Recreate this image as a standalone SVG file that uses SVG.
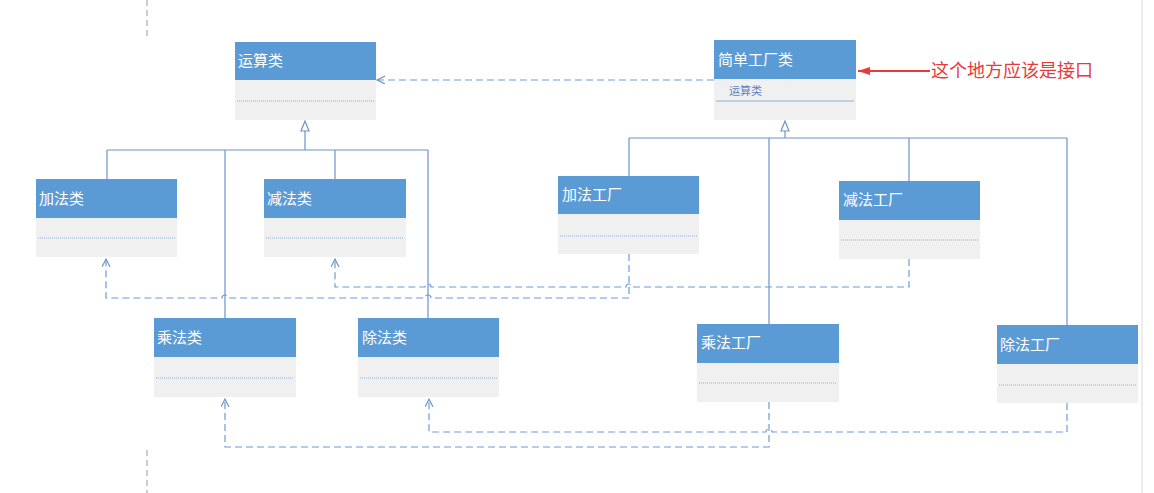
<svg xmlns="http://www.w3.org/2000/svg" width="1154" height="493" viewBox="0 0 1154 493">
<style>
.hd{fill:#5b9bd5}
.bd{fill:#f0f0f0}
.t{font-family:"Liberation Sans","Noto Sans CJK SC",sans-serif;font-size:15px;fill:#ffffff}
.sep{stroke:#8fb0d8;stroke-width:1;stroke-dasharray:1 1}
.solid{fill:none;stroke:#6d93c9;stroke-width:1.2}
.dash{fill:none;stroke:#6d9bd5;stroke-width:1.2;stroke-dasharray:7 4}
.tri{fill:#ffffff;stroke:#6d93c9;stroke-width:1.2}
</style>
<defs>
<marker id="open" markerWidth="10" markerHeight="10" refX="8" refY="4" orient="auto" markerUnits="userSpaceOnUse">
<path d="M0,0 L8,4 L0,8" fill="none" stroke="#6d93c9" stroke-width="1.2"/>
</marker>
<marker id="red" markerWidth="14" markerHeight="10" refX="12" refY="4" orient="auto" markerUnits="userSpaceOnUse">
<path d="M0,0 L12,4 L0,8 Z" fill="#e8393b"/>
</marker>
</defs>
<rect width="1154" height="493" fill="#ffffff"/>
<line x1="147" y1="0" x2="147" y2="36" stroke="#9a9a9a" stroke-dasharray="6 4"/>
<line x1="147" y1="450" x2="147" y2="493" stroke="#9a9a9a" stroke-dasharray="6 4"/>
<line x1="1142" y1="0" x2="1142" y2="493" stroke="#dcdcdc" stroke-width="1"/>

<g id="connectors">
<path class="solid" d="M305,131 V150 M107,150 H428 M107,150 V179 M225,150 V318 M335,150 V179 M428,150 V318"/>
<path class="tri" d="M305,121 L301,131 L309,131 Z"/>
<path class="solid" d="M785,131 V138 M629,138 H1067 M629,138 V176 M769,138 V324 M909,138 V181 M1067,138 V325"/>
<path class="tri" d="M785,121 L781,131 L789,131 Z"/>
<path class="dash" d="M714,80 H377" marker-end="url(#open)"/>
<path class="dash" d="M629,254 V298 H431 a3,3 0 0 0 -6,0 H228 a3,3 0 0 0 -6,0 H106 V259" marker-end="url(#open)"/>
<path class="dash" d="M909,259 V287 H632 a3,3 0 0 0 -6,0 H431 a3,3 0 0 0 -6,0 H335 V259" marker-end="url(#open)"/>
<path class="dash" d="M769,402 V447 H225 V399" marker-end="url(#open)"/>
<path class="dash" d="M1067,403 V432 H772 a3,3 0 0 0 -6,0 H429 V399" marker-end="url(#open)"/>
<path d="M930,71 H858" stroke="#e8393b" stroke-width="1.8" fill="none" marker-end="url(#red)"/>
</g>

<g id="yunsuan">
<rect class="hd" x="235" y="42" width="141" height="38"/>
<rect class="bd" x="235" y="80" width="141" height="40"/>
<text class="t" x="238" y="66">运算类</text>
<line class="sep" x1="237" y1="101" x2="374" y2="101"/>
</g>

<g id="factory">
<rect class="hd" x="714" y="40" width="142" height="39"/>
<rect class="bd" x="714" y="79" width="142" height="41"/>
<text class="t" x="718" y="65">简单工厂类</text>
<text x="729" y="95" font-family="'Liberation Sans','Noto Sans CJK SC',sans-serif" font-size="11" fill="#5b82bb">运算类</text>
<line x1="716" y1="101" x2="854" y2="101" stroke="#8fb0d8" stroke-width="1"/>
</g>

<g id="note">
<text x="931" y="77" font-family="'Liberation Sans','Noto Sans CJK SC',sans-serif" font-size="18" fill="#e8393b">这个地方应该是接口</text>
</g>

<g id="jiafa">
<rect class="hd" x="36" y="179" width="141" height="39"/>
<rect class="bd" x="36" y="218" width="141" height="39"/>
<text class="t" x="39" y="204">加法类</text>
<line class="sep" x1="38" y1="238" x2="175" y2="238"/>
</g>

<g id="jianfa">
<rect class="hd" x="264" y="179" width="142" height="39"/>
<rect class="bd" x="264" y="218" width="142" height="39"/>
<text class="t" x="267" y="204">减法类</text>
<line class="sep" x1="266" y1="238" x2="404" y2="238"/>
</g>

<g id="chengfa">
<rect class="hd" x="154" y="318" width="142" height="39"/>
<rect class="bd" x="154" y="357" width="142" height="40"/>
<text class="t" x="157" y="343">乘法类</text>
<line class="sep" x1="156" y1="378" x2="294" y2="378"/>
</g>

<g id="chufa">
<rect class="hd" x="358" y="318" width="141" height="39"/>
<rect class="bd" x="358" y="357" width="141" height="40"/>
<text class="t" x="362" y="343">除法类</text>
<line class="sep" x1="360" y1="378" x2="497" y2="378"/>
</g>

<g id="jiafa-factory">
<rect class="hd" x="558" y="176" width="141" height="38"/>
<rect class="bd" x="558" y="214" width="141" height="40"/>
<text class="t" x="562" y="200">加法工厂</text>
<line class="sep" x1="560" y1="236" x2="697" y2="236"/>
</g>

<g id="jianfa-factory">
<rect class="hd" x="839" y="181" width="141" height="39"/>
<rect class="bd" x="839" y="220" width="141" height="39"/>
<text class="t" x="843" y="205">减法工厂</text>
<line class="sep" x1="841" y1="240" x2="978" y2="240"/>
</g>

<g id="chengfa-factory">
<rect class="hd" x="697" y="324" width="142" height="39"/>
<rect class="bd" x="697" y="363" width="142" height="39"/>
<text class="t" x="701" y="348">乘法工厂</text>
<line class="sep" x1="699" y1="383" x2="837" y2="383"/>
</g>

<g id="chufa-factory">
<rect class="hd" x="997" y="325" width="141" height="39"/>
<rect class="bd" x="997" y="364" width="141" height="39"/>
<text class="t" x="1000" y="350">除法工厂</text>
<line class="sep" x1="999" y1="385" x2="1136" y2="385"/>
</g>
</svg>
